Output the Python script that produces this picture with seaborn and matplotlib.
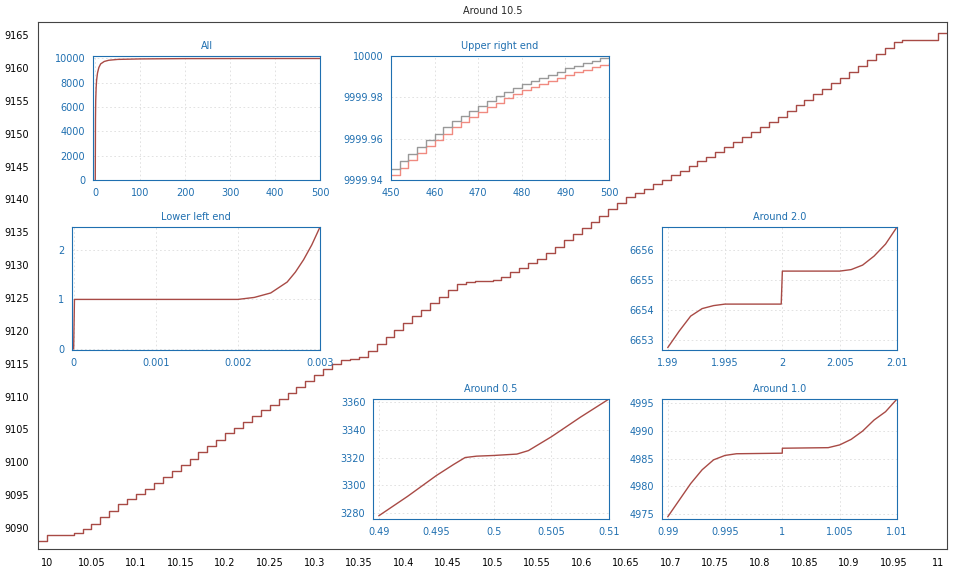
import matplotlib
matplotlib.use("Agg")
import matplotlib.pyplot as plt
import seaborn as sns
import pandas as pd

sns.set_theme(style="white")
plt.rcParams['font.family'] = ['DejaVu Sans']

main_x = [9.99] + [round(10 + i * 0.01, 2) for i in range(101)] + [11.01]
main_y = [9088.0,
          9089.0, 9089.0, 9089.0, 9089.2, 9089.8, 9090.6, 9091.6, 9092.6, 9093.6, 9094.4,
          9095.2, 9096.0, 9096.9, 9097.8, 9098.7, 9099.6, 9100.5, 9101.5, 9102.4, 9103.4,
          9104.4, 9105.2, 9106.1, 9107.0, 9107.9, 9108.7, 9109.6, 9110.6, 9111.5, 9112.4,
          9113.3, 9114.2, 9115.0, 9115.5, 9115.7, 9116.0, 9116.9, 9118.0, 9119.1, 9120.2,
          9121.2, 9122.2, 9123.2, 9124.2, 9125.2, 9126.2, 9127.1, 9127.5, 9127.6, 9127.6,
          9127.8, 9128.2, 9128.9, 9129.6, 9130.3, 9131.0, 9131.9, 9132.8, 9133.8, 9134.7,
          9135.6, 9136.5, 9137.5, 9138.5, 9139.5, 9140.4, 9141.0, 9141.6, 9142.3, 9143.0,
          9143.7, 9144.4, 9145.1, 9145.8, 9146.5, 9147.2, 9148.0, 9148.7, 9149.5, 9150.2,
          9151.0, 9151.8, 9152.6, 9153.4, 9154.3, 9155.1, 9156.0, 9156.8, 9157.7, 9158.5,
          9159.4, 9160.3, 9161.2, 9162.2, 9163.1, 9164.0, 9164.2, 9164.3, 9164.3, 9164.3,
          9165.3, 9165.3]

all_x = [0, 0.5, 1, 2, 3, 5, 8, 12, 20, 30, 50, 100, 200, 300, 400, 500]
all_y = [0, 5000, 6500, 7600, 8200, 8800, 9250, 9550, 9750, 9850, 9920, 9960, 9985, 9990, 9993, 9995]

ur_x = list(range(450, 501, 2))
ur_gray = [9999.9455, 9999.9490, 9999.9525, 9999.9560, 9999.9595, 9999.9625, 9999.9655,
           9999.9685, 9999.9710, 9999.9735, 9999.9760, 9999.9783, 9999.9805, 9999.9825,
           9999.9845, 9999.9865, 9999.9880, 9999.9895, 9999.9910, 9999.9925, 9999.9940,
           9999.9952, 9999.9964, 9999.9976, 9999.9988, 9999.9998]
ur_red = [9999.9425, 9999.9460, 9999.9495, 9999.9530, 9999.9565, 9999.9595, 9999.9625,
          9999.9655, 9999.9680, 9999.9705, 9999.9730, 9999.9753, 9999.9775, 9999.9795,
          9999.9815, 9999.9835, 9999.9850, 9999.9865, 9999.9880, 9999.9895, 9999.9910,
          9999.9922, 9999.9934, 9999.9946, 9999.9958, 9999.9968]

ll_x = [0, 0.00001, 0.0005, 0.001, 0.0015, 0.002, 0.0022, 0.0024, 0.0026, 0.0027, 0.0028, 0.0029, 0.003]
ll_y = [0, 1, 1, 1, 1, 1, 1.04, 1.13, 1.35, 1.55, 1.8, 2.1, 2.46]

a2_x = [1.99, 1.991, 1.992, 1.993, 1.994, 1.995, 1.9999, 2.0, 2.005, 2.006, 2.007, 2.008, 2.009, 2.01]
a2_y = [6652.75, 6653.3, 6653.8, 6654.05, 6654.15, 6654.2, 6654.2, 6655.3, 6655.3, 6655.35,
        6655.5, 6655.8, 6656.2, 6656.77]

a05_x = [0.49, 0.4925, 0.495, 0.4965, 0.4975, 0.4985, 0.5, 0.502, 0.503, 0.505, 0.5075, 0.51]
a05_y = [3278, 3292, 3307, 3315, 3320, 3321, 3321.5, 3322.5, 3325, 3335, 3349, 3362.2]

a1_x = [0.99, 0.991, 0.992, 0.993, 0.994, 0.995, 0.996, 0.99999, 1.0, 1.004, 1.005, 1.006, 1.007, 1.008, 1.009, 1.01]
a1_y = [4974.5, 4977.5, 4980.5, 4983, 4984.8, 4985.6, 4985.9, 4986, 4986.9, 4987, 4987.5,
        4988.5, 4990, 4992, 4993.5, 4995.8]

LINE = "#a84a45"
BLUE = "#1f6fb0"
W, H = 960, 568

fig = plt.figure(figsize=(9.6, 5.68), dpi=100)

def box(l, t, r, b):
    return [l / W, 1 - b / H, (r - l) / W, (b - t) / H]

ax = fig.add_axes(box(38, 22, 947, 549))
sns.lineplot(x=main_x, y=main_y, ax=ax, color=LINE, lw=1, drawstyle="steps-post", estimator=None)
ax.set_xlim(9.99, 11.01)
ax.set_ylim(9086.8, 9167.0)
ax.set_xticks([round(10 + 0.05 * i, 2) for i in range(21)])
ax.set_xticklabels(["10", "10.05", "10.1", "10.15", "10.2", "10.25", "10.3", "10.35", "10.4", "10.45",
                    "10.5", "10.55", "10.6", "10.65", "10.7", "10.75", "10.8", "10.85", "10.9", "10.95", "11"])
ax.set_yticks(range(9090, 9166, 5))
ax.tick_params(labelsize=7, length=3, direction="out", colors="black")
for s in ax.spines.values():
    s.set_color("#444444")
    s.set_linewidth(0.8)
ax.set_title("Around 10.5", fontsize=7, pad=6)

def inset(b, title, xs, ys, xlim, ylim, xticks, yticks, xlabels=None, extra=None):
    a = fig.add_axes(box(*b))
    if extra is not None:
        sns.lineplot(x=xs, y=extra, ax=a, color="#f08a80", lw=1, drawstyle="steps-post", estimator=None)
        sns.lineplot(x=xs, y=ys, ax=a, color="#999999", lw=1, drawstyle="steps-post", estimator=None)
    else:
        sns.lineplot(x=xs, y=ys, ax=a, color=LINE, lw=1, estimator=None)
    a.set_xlim(*xlim)
    a.set_ylim(*ylim)
    a.set_xticks(xticks)
    if xlabels:
        a.set_xticklabels(xlabels)
    a.set_yticks(yticks)
    a.grid(True, ls=(0, (2, 3)), color="#dddddd", lw=0.6)
    a.tick_params(labelsize=7, colors=BLUE, length=2)
    for s in a.spines.values():
        s.set_color(BLUE)
        s.set_linewidth(0.8)
    a.set_title(title, fontsize=7, color=BLUE, pad=5)
    return a

inset((93, 56, 320, 180), "All", all_x, all_y, (-5, 500), (0, 10200),
      [0, 100, 200, 300, 400, 500], [0, 2000, 4000, 6000, 8000, 10000])
a = inset((391, 56, 609, 180), "Upper right end", ur_x, ur_gray, (450, 500), (9999.94, 10000.0),
          [450, 460, 470, 480, 490, 500], [9999.94, 9999.96, 9999.98, 10000],
          extra=ur_red)
a.set_yticklabels(["9999.94", "9999.96", "9999.98", "10000"])
inset((72, 227, 320, 350), "Lower left end", ll_x, ll_y, (-0.00002, 0.003), (-0.02, 2.46),
      [0, 0.001, 0.002, 0.003], [0, 1, 2], ["0", "0.001", "0.002", "0.003"])
inset((662, 227, 897, 350), "Around 2.0", a2_x, a2_y, (1.9895, 2.01), (6652.67, 6656.77),
      [1.99, 1.995, 2.0, 2.005, 2.01], [6653, 6654, 6655, 6656], ["1.99", "1.995", "2", "2.005", "2.01"])
inset((373, 399, 609, 519), "Around 0.5", a05_x, a05_y, (0.4895, 0.51), (3275.7, 3362.2),
      [0.49, 0.495, 0.5, 0.505, 0.51], [3280, 3300, 3320, 3340, 3360], ["0.49", "0.495", "0.5", "0.505", "0.51"])
inset((662, 399, 897, 519), "Around 1.0", a1_x, a1_y, (0.9895, 1.01), (4974.1, 4995.8),
      [0.99, 0.995, 1.0, 1.005, 1.01], [4975, 4980, 4985, 4990, 4995], ["0.99", "0.995", "1", "1.005", "1.01"])

fig.savefig("out.png", dpi=100)
